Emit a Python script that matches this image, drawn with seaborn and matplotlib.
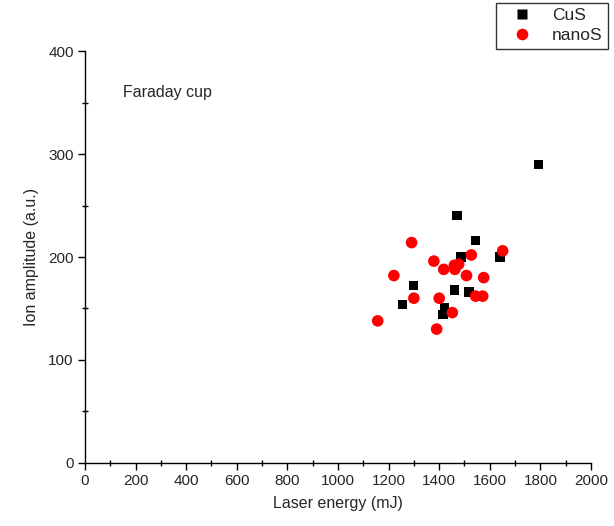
import pandas as pd
import matplotlib.pyplot as plt
import seaborn as sns
from matplotlib.ticker import MultipleLocator

# CuS points
cus_energy = [1792, 1471, 1543, 1486, 1640, 1298, 1460, 1518, 1254, 1422, 1415]
cus_amp = [290, 240, 216, 200, 200, 172, 168, 166, 154, 151, 144]

# nanoS points
nanos_energy = [1291, 1651, 1527, 1379, 1418, 1462, 1477, 1460, 1221, 1508, 1576,
                1300, 1400, 1544, 1572, 1452, 1157, 1390]
nanos_amp = [214, 206, 202, 196, 188, 188, 193, 192, 182, 182, 180,
             160, 160, 162, 162, 146, 138, 130]

df = pd.DataFrame({
    'energy': cus_energy + nanos_energy,
    'amp': cus_amp + nanos_amp,
    'sample': ['CuS'] * len(cus_energy) + ['nanoS'] * len(nanos_energy),
})

sns.set_theme(style="ticks")
plt.rcParams['font.family'] = ['Liberation Sans', 'DejaVu Sans']

fig = plt.figure(figsize=(6.14, 5.26), dpi=100)
ax = fig.add_axes([0.1384, 0.1198, 0.8241, 0.7832])

sns.scatterplot(
    data=df,
    x='energy',
    y='amp',
    hue='sample',
    style='sample',
    palette={'CuS': 'black', 'nanoS': 'red'},
    markers={'CuS': 's', 'nanoS': 'o'},
    size='sample',
    sizes={'CuS': 45, 'nanoS': 70},
    edgecolor='none',
    ax=ax,
)

ax.set_xlim(0, 2000)
ax.set_ylim(0, 400)
ax.xaxis.set_major_locator(MultipleLocator(200))
ax.xaxis.set_minor_locator(MultipleLocator(100))
ax.yaxis.set_major_locator(MultipleLocator(100))
ax.yaxis.set_minor_locator(MultipleLocator(50))
ax.tick_params(which='major', direction='out', length=5, width=1, labelsize=11,
               color='black', pad=3)
ax.tick_params(which='minor', direction='inout', length=5, width=1, color='black')
for side in ['top', 'right']:
    ax.spines[side].set_visible(False)
for side in ['left', 'bottom']:
    ax.spines[side].set_color('black')
    ax.spines[side].set_linewidth(1)

ax.set_xlabel("Laser energy (mJ)", fontsize=11.5, labelpad=6)
ax.set_ylabel("Ion amplitude (a.u.)", fontsize=11.5, labelpad=7)
ax.text(150, 360, "Faraday cup", fontsize=11.5, va='center')

handles, labels = ax.get_legend_handles_labels()
ax.legend(handles, labels, loc='upper right', bbox_to_anchor=(0.99, 0.995),
          bbox_transform=fig.transFigure, frameon=True, fancybox=False,
          edgecolor='black', fontsize=12.5, borderpad=0.3, labelspacing=0.3,
          handlelength=2.3, handletextpad=0.6, borderaxespad=0)
ax.get_legend().get_frame().set_linewidth(1)

plt.savefig("out.png", dpi=100)
plt.close()
